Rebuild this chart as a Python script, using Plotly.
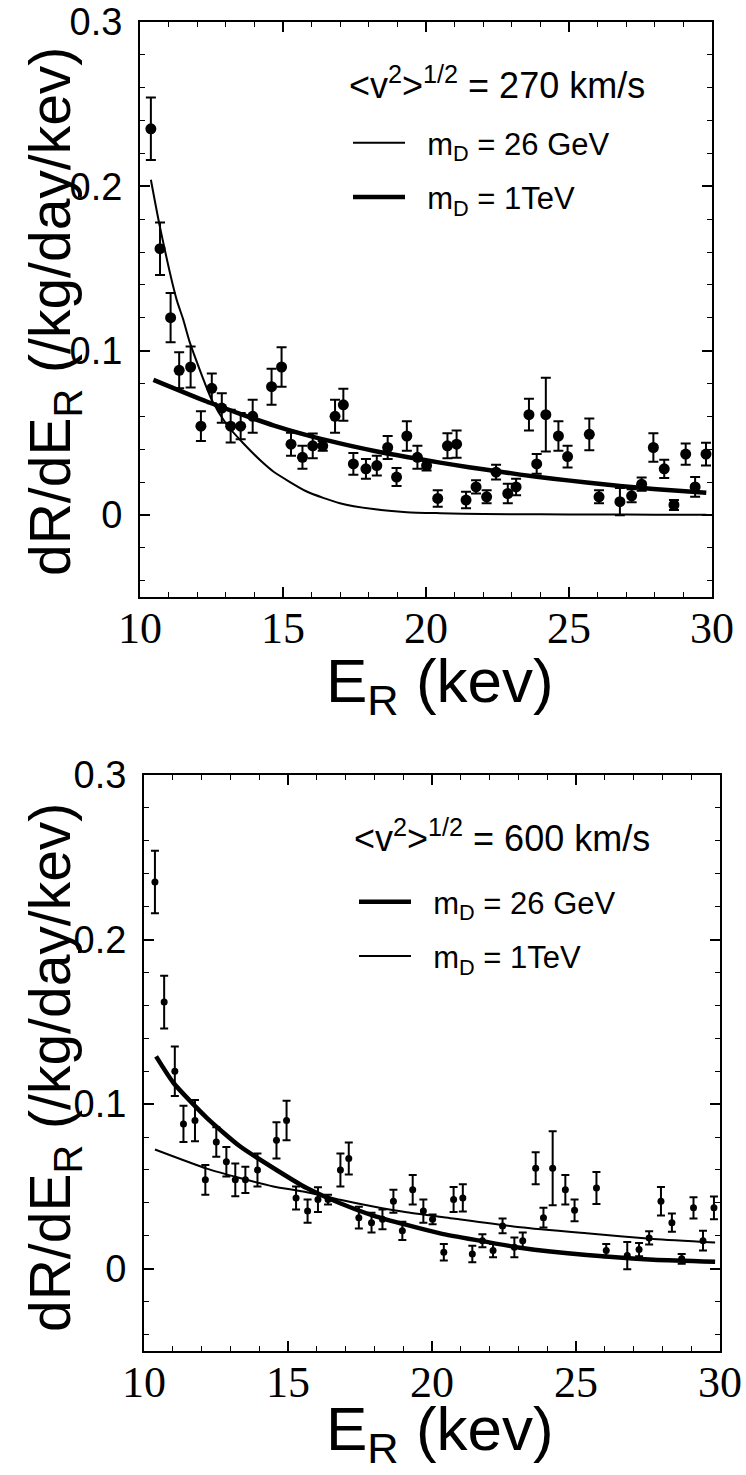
import plotly.graph_objects as go

# ---------------- data ----------------
energy = [10.38, 10.70, 11.07, 11.37, 11.77, 12.13, 12.51, 12.86, 13.17, 13.52,
          13.94, 14.60, 14.95, 15.28, 15.68, 16.04, 16.39, 16.82, 17.11, 17.46,
          17.90, 18.28, 18.66, 18.97, 19.33, 19.70, 20.02, 20.41, 20.75, 21.07,
          21.40, 21.75, 22.12, 22.45, 22.86, 23.15, 23.60, 23.87, 24.19, 24.63,
          24.95, 25.71, 26.05, 26.78, 27.19, 27.54, 27.95, 28.33, 28.67, 29.08,
          29.41, 29.79]
rate = [0.235, 0.162, 0.120, 0.088, 0.090, 0.054, 0.077, 0.065, 0.054, 0.054,
        0.060, 0.078, 0.090, 0.043, 0.035, 0.042, 0.042, 0.060, 0.067, 0.031,
        0.028, 0.030, 0.041, 0.023, 0.048, 0.035, 0.030, 0.010, 0.042, 0.043,
        0.009, 0.017, 0.011, 0.026, 0.013, 0.017, 0.061, 0.031, 0.061, 0.048,
        0.0355, 0.049, 0.011, 0.008, 0.0116, 0.0187, 0.041, 0.028, 0.006, 0.037,
        0.017, 0.037]
rate_err = [0.019, 0.016, 0.015, 0.011, 0.0125, 0.009, 0.009, 0.009, 0.010, 0.008,
            0.010, 0.011, 0.012, 0.007, 0.007, 0.0075, 0.003, 0.010, 0.0097, 0.0066,
            0.006, 0.006, 0.007, 0.0055, 0.009, 0.007, 0.003, 0.005, 0.0076, 0.0083,
            0.005, 0.004, 0.004, 0.0045, 0.006, 0.005, 0.0097, 0.006, 0.0225, 0.009,
            0.0066, 0.0097, 0.004, 0.0083, 0.004, 0.004, 0.0087, 0.0056, 0.003, 0.0065,
            0.006, 0.0069]

# top panel (270 km/s) theory curves
top_26gev_e = [10.38, 10.70, 11.28, 11.51, 11.75, 12.51, 13.03, 13.61, 14.31, 14.66,
               15.83, 16.99, 18.16, 19.33, 20.50, 22.0, 24.0, 26.0, 28.0, 29.8]
top_26gev_v = [0.204, 0.175, 0.131, 0.119, 0.1045, 0.070, 0.055, 0.0436, 0.0315, 0.0264,
               0.0142, 0.0071, 0.0035, 0.0016, 0.0010, 0.0005, 0.0003, 0.0002, 0.0001, 0.0001]
top_1tev_e = [10.47, 12.33, 13.50, 14.66, 15.83, 16.99, 18.16, 19.33, 20.49, 21.5,
              22.12, 23.29, 24.45, 25.62, 26.78, 27.95, 29.8]
top_1tev_v = [0.0822, 0.069, 0.0615, 0.0545, 0.0485, 0.0435, 0.039, 0.0352, 0.0318, 0.029,
              0.0275, 0.0245, 0.022, 0.0197, 0.0176, 0.0158, 0.0135]

# bottom panel (600 km/s) theory curves
bot_26gev_e = [10.42, 11.02, 12.18, 13.33, 14.49, 15.65, 16.81, 17.96, 19.12, 20.28,
               21.5, 23.06, 25.37, 27.69, 29.83]
bot_26gev_v = [0.129, 0.113, 0.0917, 0.0744, 0.0612, 0.049, 0.0398, 0.0323, 0.0266, 0.0215,
               0.0175, 0.0128, 0.0083, 0.0055, 0.0043]
bot_1tev_e = [10.38, 12.18, 13.33, 14.49, 15.65, 16.81, 17.96, 19.12, 20.74, 23.06,
              25.37, 27.69, 29.83]
bot_1tev_v = [0.0724, 0.0608, 0.0551, 0.050, 0.0465, 0.0419, 0.0378, 0.0343, 0.0305, 0.0252,
              0.0215, 0.0181, 0.0159]

x_ticks = [10, 15, 20, 25, 30]
y_ticks = [0, 0.1, 0.2, 0.3]
y_ticktext = ["0", "0.1", "0.2", "0.3"]

# ---------------- figure ----------------
W, H = 746, 1475
fig = go.Figure()

SANS = "Liberation Sans, Arial, Helvetica, sans-serif"
SERIF = "Liberation Serif, Times New Roman, serif"
NB = "\u00a0\u00a0"

# top panel
fig.add_trace(go.Scatter(
    x=energy, y=rate, mode="markers", showlegend=False,
    marker=dict(color="black", size=11),
    error_y=dict(type="data", array=rate_err, color="black", thickness=2, width=5),
    xaxis="x", yaxis="y"))
fig.add_trace(go.Scatter(
    x=top_26gev_e, y=top_26gev_v, mode="lines", line=dict(color="black", width=2, shape="spline", smoothing=0.6),
    name=NB + "m<sub>D</sub> = 26 GeV", legend="legend", legendgroup="a",
    xaxis="x", yaxis="y"))
fig.add_trace(go.Scatter(
    x=top_1tev_e, y=top_1tev_v, mode="lines", line=dict(color="black", width=4.5, shape="spline", smoothing=0.6),
    name=NB + "m<sub>D</sub> = 1TeV", legend="legend", legendgroup="b",
    xaxis="x", yaxis="y"))

# bottom panel
fig.add_trace(go.Scatter(
    x=energy, y=rate, mode="markers", showlegend=False,
    marker=dict(color="black", size=7),
    error_y=dict(type="data", array=rate_err, color="black", thickness=2, width=4),
    xaxis="x2", yaxis="y2"))
fig.add_trace(go.Scatter(
    x=bot_26gev_e, y=bot_26gev_v, mode="lines", line=dict(color="black", width=4.5, shape="spline", smoothing=0.6),
    name=NB + "m<sub>D</sub> = 26 GeV", legend="legend2", legendgroup="c",
    xaxis="x2", yaxis="y2"))
fig.add_trace(go.Scatter(
    x=bot_1tev_e, y=bot_1tev_v, mode="lines", line=dict(color="black", width=2, shape="spline", smoothing=0.6),
    name=NB + "m<sub>D</sub> = 1TeV", legend="legend2", legendgroup="d",
    xaxis="x2", yaxis="y2"))


def xaxis_style(domain, anchor):
    return dict(domain=domain, anchor=anchor, range=[10, 30], tickvals=x_ticks,
                ticks="inside", ticklen=10, tickwidth=1.5, tickcolor="black",
                minor=dict(dtick=1, tick0=10, ticks="inside", ticklen=5, tickwidth=1.2, tickcolor="black"),
                showline=True, linewidth=2, linecolor="black", mirror="ticks",
                showgrid=False, zeroline=False, automargin=False,
                tickfont=dict(family=SERIF, size=44, color="black"), ticklabelstandoff=-9)


def yaxis_style(domain, anchor):
    return dict(domain=domain, anchor=anchor, range=[-0.05, 0.3], tickvals=y_ticks, ticktext=y_ticktext,
                ticks="inside", ticklen=10, tickwidth=1.5, tickcolor="black",
                minor=dict(dtick=0.02, tick0=0, ticks="inside", ticklen=5, tickwidth=1.2, tickcolor="black"),
                showline=True, linewidth=2, linecolor="black", mirror="ticks",
                showgrid=False, zeroline=False, automargin=False,
                tickfont=dict(family=SANS, size=38, color="black"), ticklabelstandoff=8)


top_x = [140 / W, 712 / W]
top_y = [1 - 597 / H, 1 - 22 / H]
bot_x = [144 / W, 720 / W]
bot_y = [1 - 1351 / H, 1 - 775 / H]

legend_common = dict(bgcolor="rgba(0,0,0,0)", borderwidth=0, traceorder="grouped", tracegroupgap=11,
                     font=dict(family=SANS, size=31, color="black"), itemwidth=52,
                     xanchor="left", yanchor="top")

fig.update_layout(
    width=W, height=H, margin=dict(l=0, r=0, t=0, b=0),
    paper_bgcolor="white", plot_bgcolor="white",
    xaxis=xaxis_style(top_x, "y"), yaxis=yaxis_style(top_y, "x"),
    xaxis2=xaxis_style(bot_x, "y2"), yaxis2=yaxis_style(bot_y, "x2"),
    legend=dict(**legend_common, x=348 / W, y=1 - 116 / H),
    legend2=dict(**legend_common, x=354 / W, y=1 - 875 / H),
)

# legend headings
for txt, xl, yc in (("<v<sup>2</sup>><sup>1/2</sup> = 270 km/s", 347, 83),
                    ("<v<sup>2</sup>><sup>1/2</sup> = 600 km/s", 352, 836)):
    fig.add_annotation(text=txt, xref="paper", yref="paper", x=xl / W, y=1 - yc / H,
                       showarrow=False, xanchor="left", yanchor="middle",
                       font=dict(family=SANS, size=36, color="black"))

ytitle = "dR/dE<sub>R</sub> (/kg/day/kev)"
xtitle = "E<sub>R</sub> (kev)"
for yc in (312, 1068):
    fig.add_annotation(text=ytitle, xref="paper", yref="paper", x=54 / W, y=1 - yc / H,
                       textangle=-90, showarrow=False, xanchor="center", yanchor="middle",
                       font=dict(family=SANS, size=57, color="black"))
for xc, yc in ((440, 685), (440, 1433)):
    fig.add_annotation(text=xtitle, xref="paper", yref="paper", x=xc / W, y=1 - yc / H,
                       showarrow=False, xanchor="center", yanchor="middle", borderpad=0,
                       font=dict(family=SANS, size=62, color="black"))

fig.write_html("out.html")
